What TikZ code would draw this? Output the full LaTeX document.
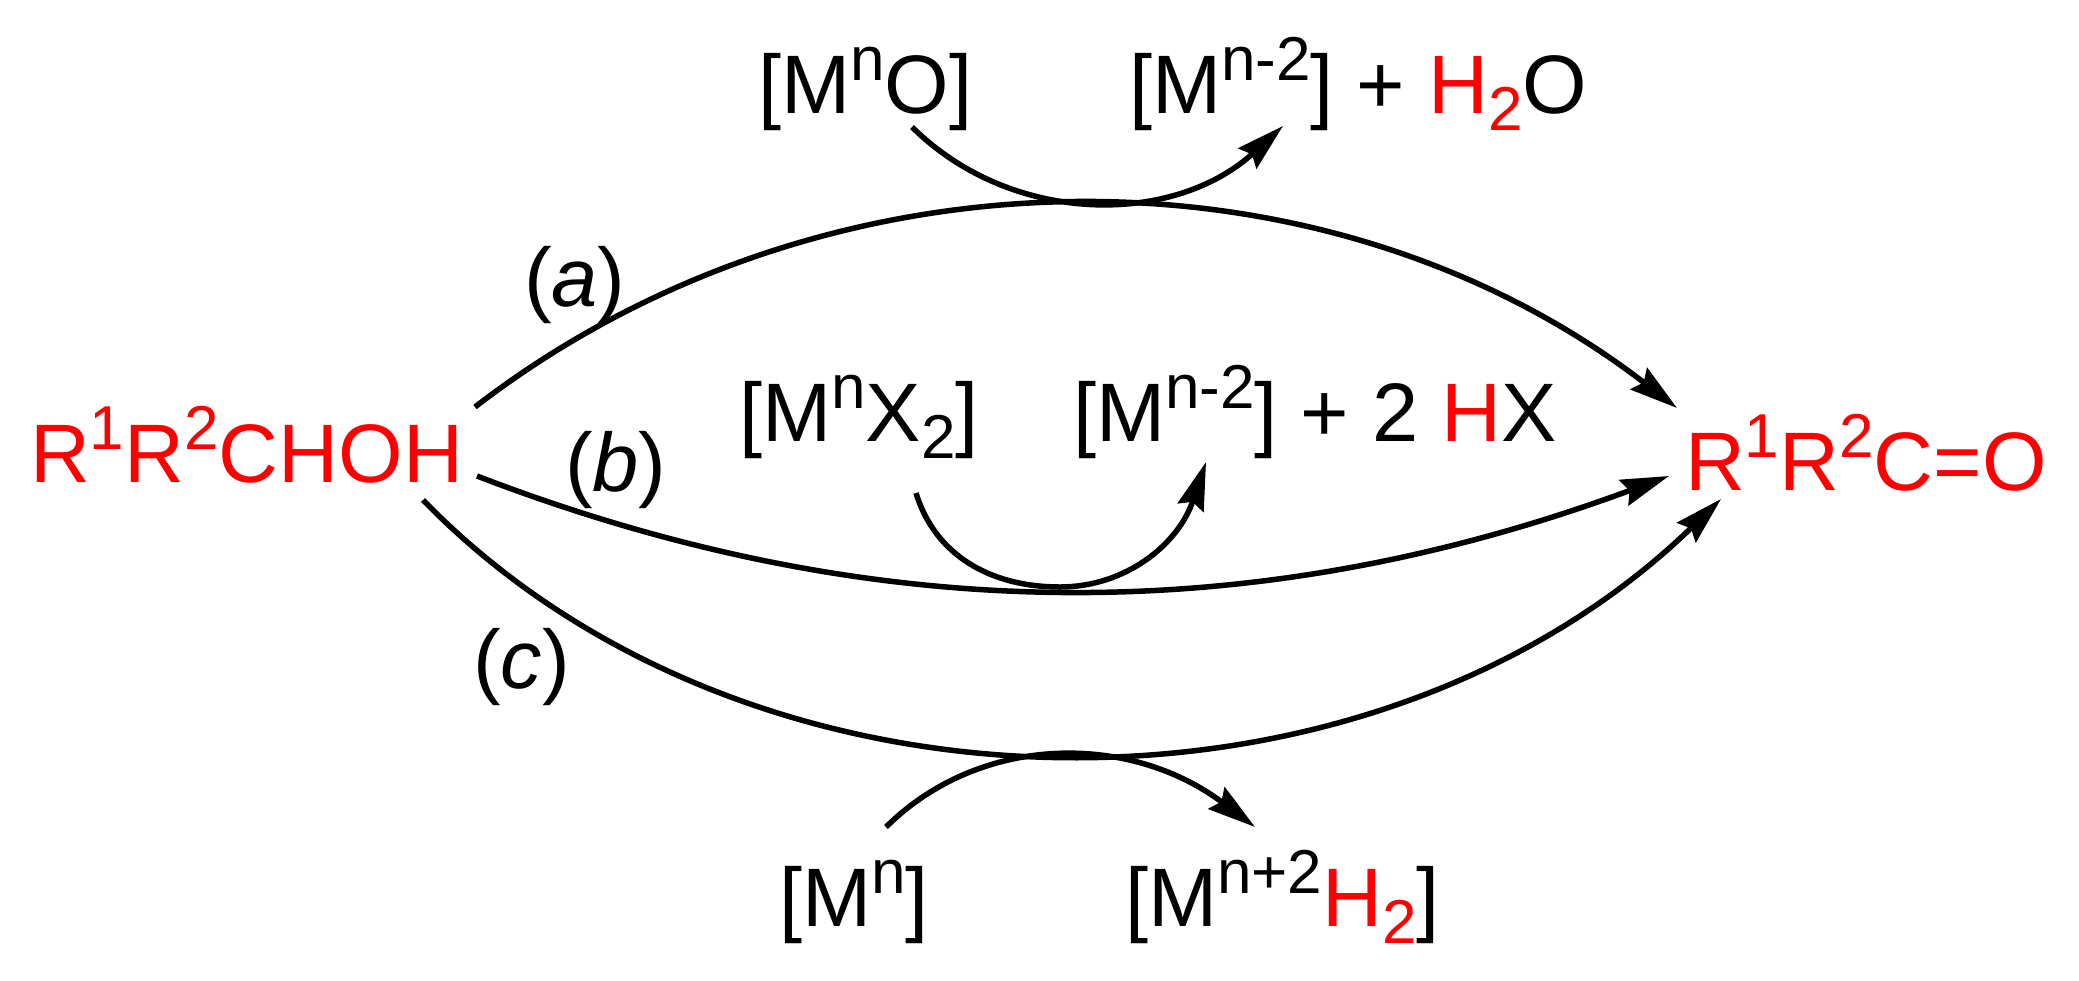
\documentclass[tikz,border=0pt]{standalone}
\usepackage{fontspec}
\setmainfont{Liberation Sans}
\usetikzlibrary{arrows.meta}
\newcommand{\upidx}[1]{\raisebox{33pt}{\fontsize{62pt}{62pt}\selectfont #1}}
\newcommand{\dnidx}[1]{\raisebox{-17pt}{\fontsize{62pt}{62pt}\selectfont #1}}
\newcommand{\rd}[1]{\textcolor{red}{#1}}
\tikzset{
  chem/.style={anchor=base west,inner sep=0pt,outer sep=0pt,font=\fontsize{83pt}{83pt}\selectfont,text=black},
  flow/.style={draw=black,line width=5.5pt,-{Stealth[length=48pt,width=27pt,inset=6pt]}}
}
\begin{document}
\begin{tikzpicture}[x=1pt,y=-1pt]
\useasboundingbox (0,0) rectangle (2079,980);
\fill[white] (0,0) rectangle (2079,980);
\node[chem] (alcohol) at (30,482) {\rd{R\upidx{1}R\upidx{2}CHOH}};
\node[chem] (ketone) at (1685,490) {\rd{R\upidx{1}R\upidx{2}C=O}};
\node[chem] (oxo) at (758,113) {[M\upidx{n}O]};
\node[chem] (oxoprod) at (1129,113) {[M\upidx{n-2}] + \rd{H\dnidx{2}}O};
\node[chem] (halide) at (739,441) {[M\upidx{n}X\dnidx{2}]};
\node[chem] (haliprod) at (1073,441) {[M\upidx{n-2}] + 2 \rd{H}X};
\node[chem] (metal) at (779,926) {[M\upidx{n}]};
\node[chem] (hydride) at (1125,926) {[M\upidx{n+2}\rd{H\dnidx{2}}]};
\node[chem] (la) at (524,306) {(\textit{a})};
\node[chem] (lb) at (565,491) {(\textit{b})};
\node[chem] (lc) at (473,688) {(\textit{c})};
% main routes
\draw[flow] ([shift={(445,-75)}]alcohol.base west) .. controls (825,137) and (1325,137) .. ([shift={(-8,-82)}]ketone.base west);
\draw[flow] ([shift={(447,-6)}]alcohol.base west) .. controls (875,629) and (1255,629) .. ([shift={(-16,-14)}]ketone.base west);
\draw[flow] ([shift={(393,18)}]alcohol.base west) .. controls (753,839) and (1370,839) .. ([shift={(36,9)}]ketone.base west);
% metal arrows
\draw[flow] ([shift={(154,14)}]oxo.base west) .. controls (1012,226) and (1173,226) .. ([shift={(154,13)}]oxoprod.base west);
\draw[flow] ([shift={(177,52)}]halide.base west) .. controls (935,555) and (990,587) .. (1060,587) .. controls (1125,587) and (1178,545) .. ([shift={(133,21)}]haliprod.base west);
\draw[flow] ([shift={(107,-99)}]metal.base west) .. controls (981,733) and (1130,733) .. ([shift={(130,-99)}]hydride.base west);
\end{tikzpicture}
\end{document}
